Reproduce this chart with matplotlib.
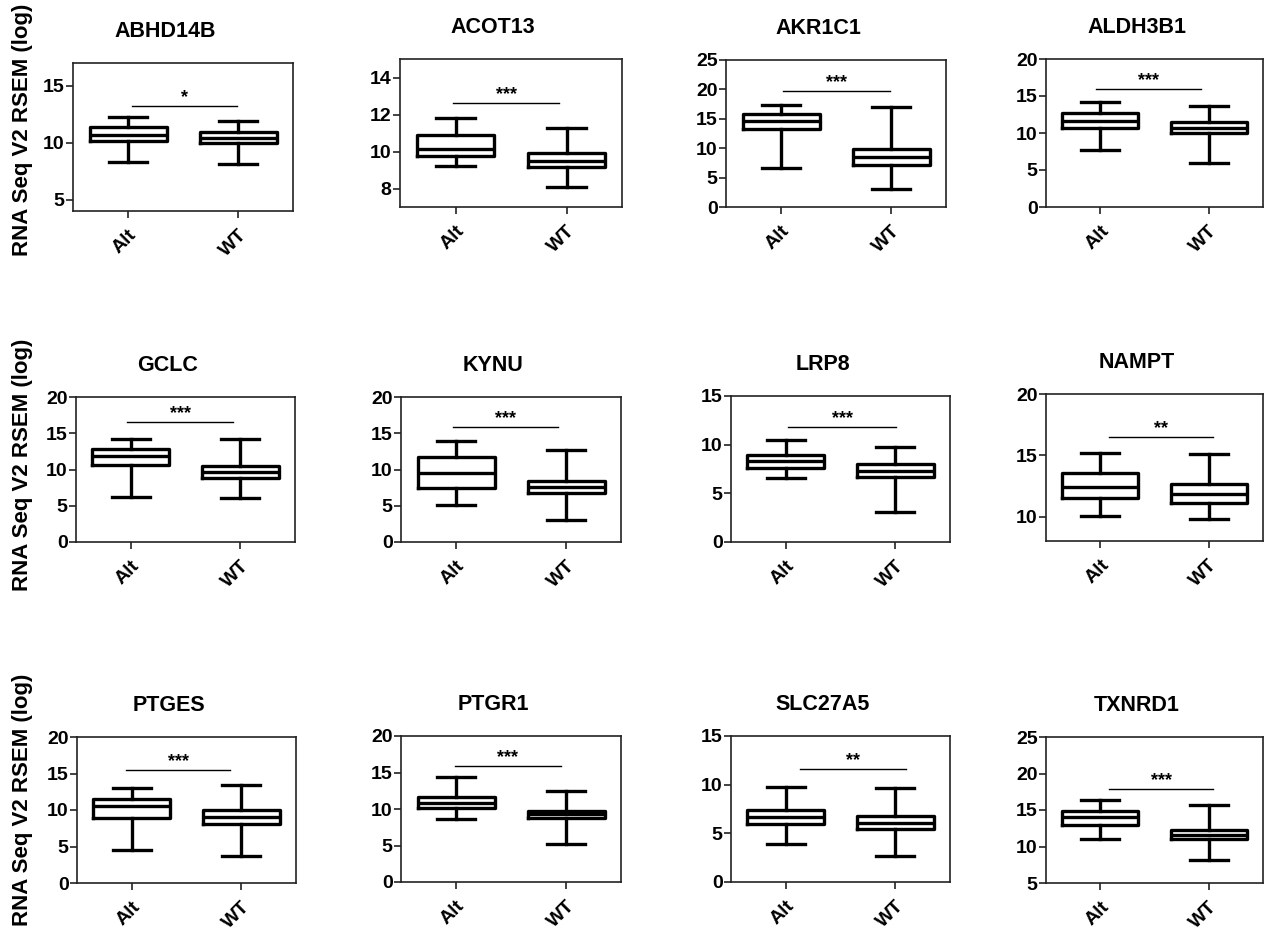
import matplotlib
matplotlib.use("Agg")
import matplotlib.pyplot as plt

plt.rcParams["font.family"] = ["Liberation Sans", "DejaVu Sans"]
plt.rcParams["font.weight"] = "bold"

genes = ["ABHD14B", "ACOT13", "AKR1C1", "ALDH3B1",
         "GCLC", "KYNU", "LRP8", "NAMPT",
         "PTGES", "PTGR1", "SLC27A5", "TXNRD1"]
groups = ["Alt", "WT"]

# whisker low, Q1, median, Q3, whisker high
alt_stats = [
    [8.3, 10.15, 10.7, 11.4, 12.25],
    [9.2, 9.73, 10.12, 10.91, 11.82],
    [6.7, 13.35, 14.65, 15.9, 17.4],
    [7.7, 10.63, 11.67, 12.67, 14.17],
    [6.26, 10.6, 11.9, 12.8, 14.2],
    [5.12, 7.5, 9.56, 11.76, 13.95],
    [6.6, 7.57, 8.35, 8.94, 10.47],
    [10.02, 11.55, 12.4, 13.58, 15.19],
    [4.48, 8.9, 10.55, 11.56, 13.0],
    [8.57, 10.08, 10.85, 11.68, 14.34],
    [3.88, 6.01, 6.69, 7.38, 9.78],
    [11.08, 13.0, 14.04, 14.82, 16.33],
]
wt_stats = [
    [8.16, 9.97, 10.41, 10.9, 11.87],
    [8.09, 9.15, 9.49, 9.91, 11.27],
    [3.0, 7.1, 8.52, 9.83, 16.93],
    [5.97, 9.95, 10.63, 11.54, 13.67],
    [6.08, 8.87, 9.6, 10.48, 14.2],
    [2.97, 6.73, 7.64, 8.42, 12.68],
    [3.13, 6.65, 7.3, 7.98, 9.79],
    [9.78, 11.11, 11.8, 12.62, 15.08],
    [3.7, 8.13, 9.04, 9.96, 13.38],
    [5.18, 8.79, 9.26, 9.71, 12.46],
    [2.65, 5.4, 6.08, 6.8, 9.68],
    [8.2, 11.08, 11.63, 12.22, 15.64],
]
sig_labels = ["*", "***", "***", "***", "***", "***", "***", "**", "***", "***", "**", "***"]
sig_y = [13.2, 12.63, 19.76, 16.0, 16.5, 15.8, 11.77, 16.5, 15.5, 15.93, 11.58, 17.84]
sig_span = [(1.04, 1.99), (0.98, 1.93), (1.02, 1.99), (0.96, 1.93),
            (0.97, 1.93), (0.97, 1.93), (1.02, 2.01), (1.08, 2.04),
            (0.95, 1.90), (0.99, 1.95), (1.13, 2.10), (1.08, 2.04)]
ylims = [(4, 17), (7, 15), (0, 25), (0, 20), (0, 20), (0, 20),
         (0, 15), (8, 20), (0, 20), (0, 20), (0, 15), (5, 25)]
yticks = [[5, 10, 15], [8, 10, 12, 14], [0, 5, 10, 15, 20, 25], [0, 5, 10, 15, 20],
          [0, 5, 10, 15, 20], [0, 5, 10, 15, 20], [0, 5, 10, 15], [10, 15, 20],
          [0, 5, 10, 15, 20], [0, 5, 10, 15, 20], [0, 5, 10, 15], [5, 10, 15, 20, 25]]

# axes rectangles in pixels: left, top, right, bottom
rects = [(73, 63, 293, 211), (400, 59, 622, 207), (726, 60, 946, 207), (1046, 59, 1263, 207),
         (76, 397, 295, 542), (401, 397, 621, 542), (731, 396, 950, 542), (1046, 394, 1263, 541),
         (77, 737, 296, 883), (401, 736, 621, 882), (731, 736, 950, 882), (1046, 737, 1263, 883)]

W, H = 1265, 931
fig = plt.figure(figsize=(W / 100, H / 100), dpi=100)

keys = ["whislo", "q1", "med", "q3", "whishi"]
for i, g in enumerate(genes):
    l, t, r, b = rects[i]
    ax = fig.add_axes([l / W, 1 - b / H, (r - l) / W, (b - t) / H])
    stats = []
    for name, s in zip(groups, [alt_stats[i], wt_stats[i]]):
        d = dict(zip(keys, s))
        d["label"] = name
        d["fliers"] = []
        stats.append(d)
    lw = 2.4
    ax.bxp(stats, positions=[1, 2], widths=0.7, showfliers=False,
           boxprops=dict(color="black", linewidth=lw),
           medianprops=dict(color="black", linewidth=lw),
           whiskerprops=dict(color="black", linewidth=lw),
           capprops=dict(color="black", linewidth=lw),
           capwidths=0.35)
    ax.set_xlim(0.5, 2.5)
    ax.set_ylim(*ylims[i])
    ax.set_yticks(yticks[i])
    ax.set_xticks([1, 2])
    ax.set_xticklabels(groups, rotation=45, ha="right", va="top",
                       rotation_mode="anchor", fontsize=14, fontweight="bold")
    for lab in ax.get_yticklabels():
        lab.set_fontsize(14)
        lab.set_fontweight("bold")
    ax.tick_params(axis="both", direction="out", length=5, width=1.2, color="#222222")
    ax.tick_params(axis="y", pad=1)
    ax.tick_params(axis="x", pad=6)
    for sp in ax.spines.values():
        sp.set_linewidth(1.2)
        sp.set_color("#222222")
    x0, x1 = sig_span[i]
    ax.plot([x0, x1], [sig_y[i], sig_y[i]], color="black", linewidth=1.0)
    ax.text((x0 + x1) / 2, sig_y[i], sig_labels[i], ha="center", va="bottom",
            fontsize=13, fontweight="bold")
    ax.set_title(g, x=0.42, pad=19, fontsize=15.5, fontweight="bold")

for yc in [130, 465, 800]:
    fig.text(23 / W, 1 - yc / H, "RNA Seq V2 RSEM (log)", rotation=90,
             ha="center", va="center", fontsize=16, fontweight="bold")

fig.savefig("out.png", dpi=100)
